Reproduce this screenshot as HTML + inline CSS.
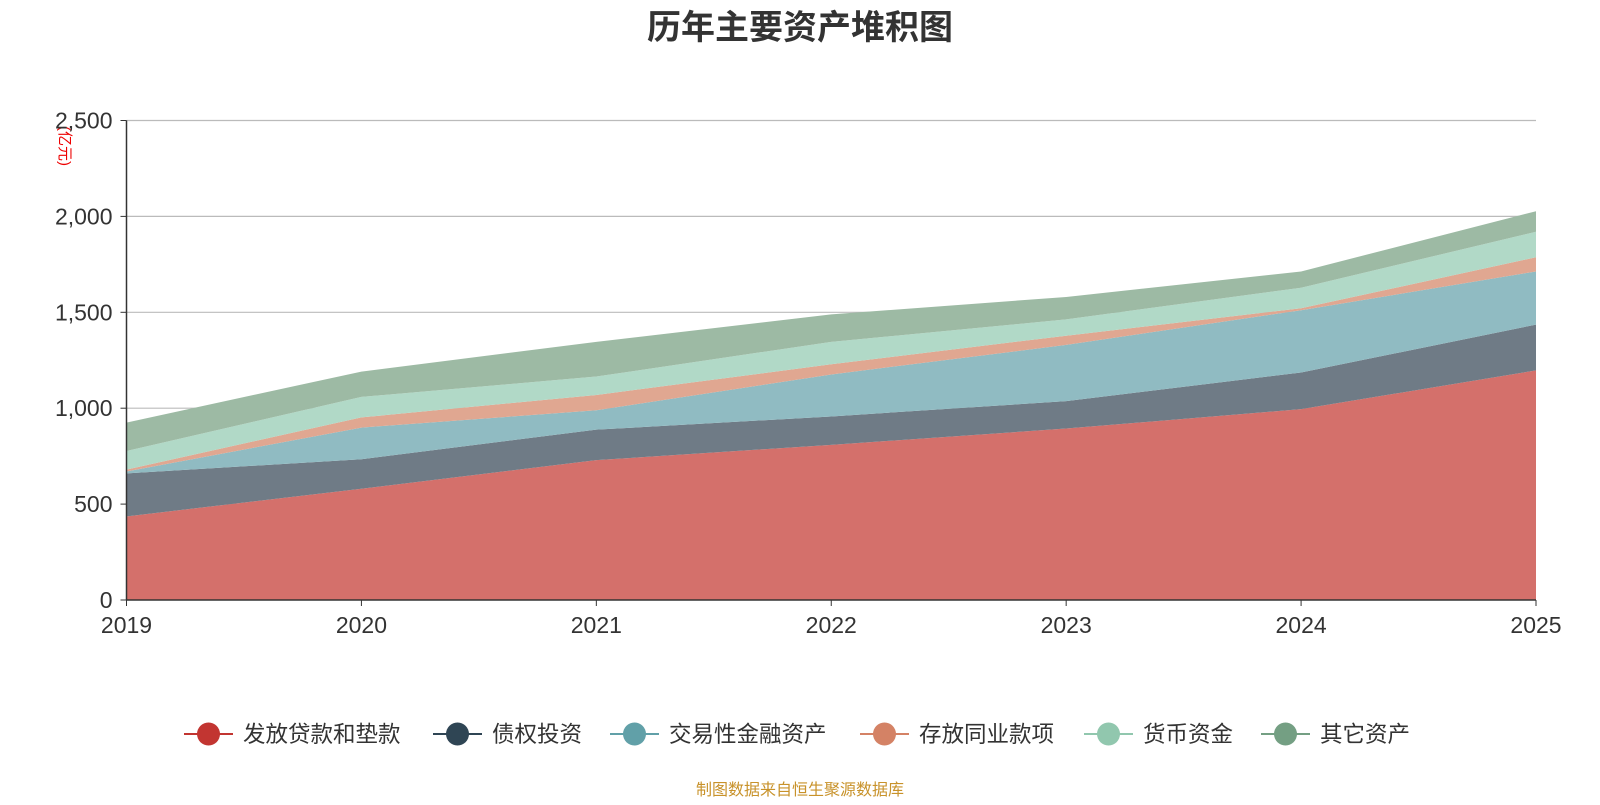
<!DOCTYPE html>
<html><head><meta charset="utf-8"><style>
body{margin:0;background:#fff;width:1600px;height:800px;overflow:hidden;font-family:"Liberation Sans","Noto Sans CJK SC",sans-serif}
</style></head><body>
<svg id="c" width="1600" height="800" xmlns="http://www.w3.org/2000/svg">
<text x="800" y="39" text-anchor="middle" font-size="34" font-weight="bold" fill="#333" font-family="Liberation Sans,Noto Sans CJK SC,sans-serif">历年主要资产堆积图</text>
<text transform="translate(60,146) rotate(90)" text-anchor="middle" font-size="15" fill="#e00" font-family="Liberation Sans,Noto Sans CJK SC,sans-serif">(亿元)</text>
<g id="grid"></g><g id="areas"></g><g id="axes"></g><g id="legend"></g>
<text x="800" y="795" text-anchor="middle" font-size="16" fill="#c8922a" font-family="Liberation Sans,Noto Sans CJK SC,sans-serif">制图数据来自恒生聚源数据库</text>
</svg>
<script>
const years=["2019","2020","2021","2022","2023","2024","2025"];
const loans=[436,580,729,809,894,995,1197];
const bonds=[224,154,159,148,143,191,239];
const trading=[10,165,101,219,293,325,277];
const interbank=[10,53,80,53,48,10,74];
const cash=[97,107,96,117,85,107,133];
const other=[148,132,181,143,117,85,107];
const yTicks=[0,500,1000,1500,2000,2500];
const names=["发放贷款和垫款","债权投资","交易性金融资产","存放同业款项","货币资金","其它资产"];
const series=[loans,bonds,trading,interbank,cash,other];
const lineCol=["#c23531","#2f4554","#61a0a8","#d48265","#91c7ae","#749f83"];
const fillCol=["#d4706b","#6f7b86","#90bbc2","#e0a791","#b1d9c7","#9dbaa4"];
const NS="http://www.w3.org/2000/svg";
const x0=126.5,x1=1536,y0=600,y1=120.5;
const X=i=>x0+(x1-x0)*i/(years.length-1);
const Y=v=>y0-(y0-y1)*v/2500;
function el(t,a,p){const e=document.createElementNS(NS,t);for(const k in a)e.setAttribute(k,a[k]);document.getElementById(p).appendChild(e);return e;}
yTicks.forEach(t=>{
 if(t>0){const g=el('line',{x1:x0,x2:x1,y1:Y(t),y2:Y(t),stroke:'#bbb','stroke-width':1.2},'grid');
 
 }
 const tk=el('line',{x1:x0-6,x2:x0,y1:Y(t),y2:Y(t),stroke:'#333'},'axes');
 
 
 const tx=el('text',{x:x0-14,y:Y(t)+8,'text-anchor':'end','font-size':23,fill:'#333'},'axes');
 tx.textContent=t.toLocaleString('en-US');
 
 
});
let base=years.map(()=>0);
series.forEach((s,k)=>{
 const top=s.map((v,i)=>base[i]+v);
 let d='M'+years.map((_,i)=>X(i)+','+Y(top[i])).join('L');
 for(let i=years.length-1;i>=0;i--)d+='L'+X(i)+','+Y(base[i]);
 d+='Z';
 const p=el('path',{d:d,fill:fillCol[k],stroke:'none'},'areas');
 
 
 base=top;
});
const ax=el('line',{x1:x0,x2:x1,y1:y0,y2:y0,stroke:'#333','stroke-width':1.5},'axes');


const ay=el('line',{x1:x0,x2:x0,y1:y1,y2:y0,stroke:'#333','stroke-width':1.5},'axes');


years.forEach((y,i)=>{
 const tk=el('line',{x1:X(i),x2:X(i),y1:y0,y2:y0+6,stroke:'#333'},'axes');
 
 
 const t=el('text',{x:X(i),y:y0+33,'text-anchor':'middle','font-size':23,fill:'#333'},'axes');
 t.textContent=y;
 
 
});
const lx=[184,433,610,860,1084,1261];
names.forEach((n,k)=>{
 const l=el('line',{x1:lx[k],x2:lx[k]+49,y1:734,y2:734,stroke:lineCol[k],'stroke-width':2},'legend');
 
 
 const c=el('circle',{cx:lx[k]+24.5,cy:734,r:11.5,fill:lineCol[k]},'legend');
 
 
 const t=el('text',{x:lx[k]+59,y:742,'font-size':22.5,fill:'#333'},'legend');
 t.textContent=n;
 
 
});
</script>
</body></html>
